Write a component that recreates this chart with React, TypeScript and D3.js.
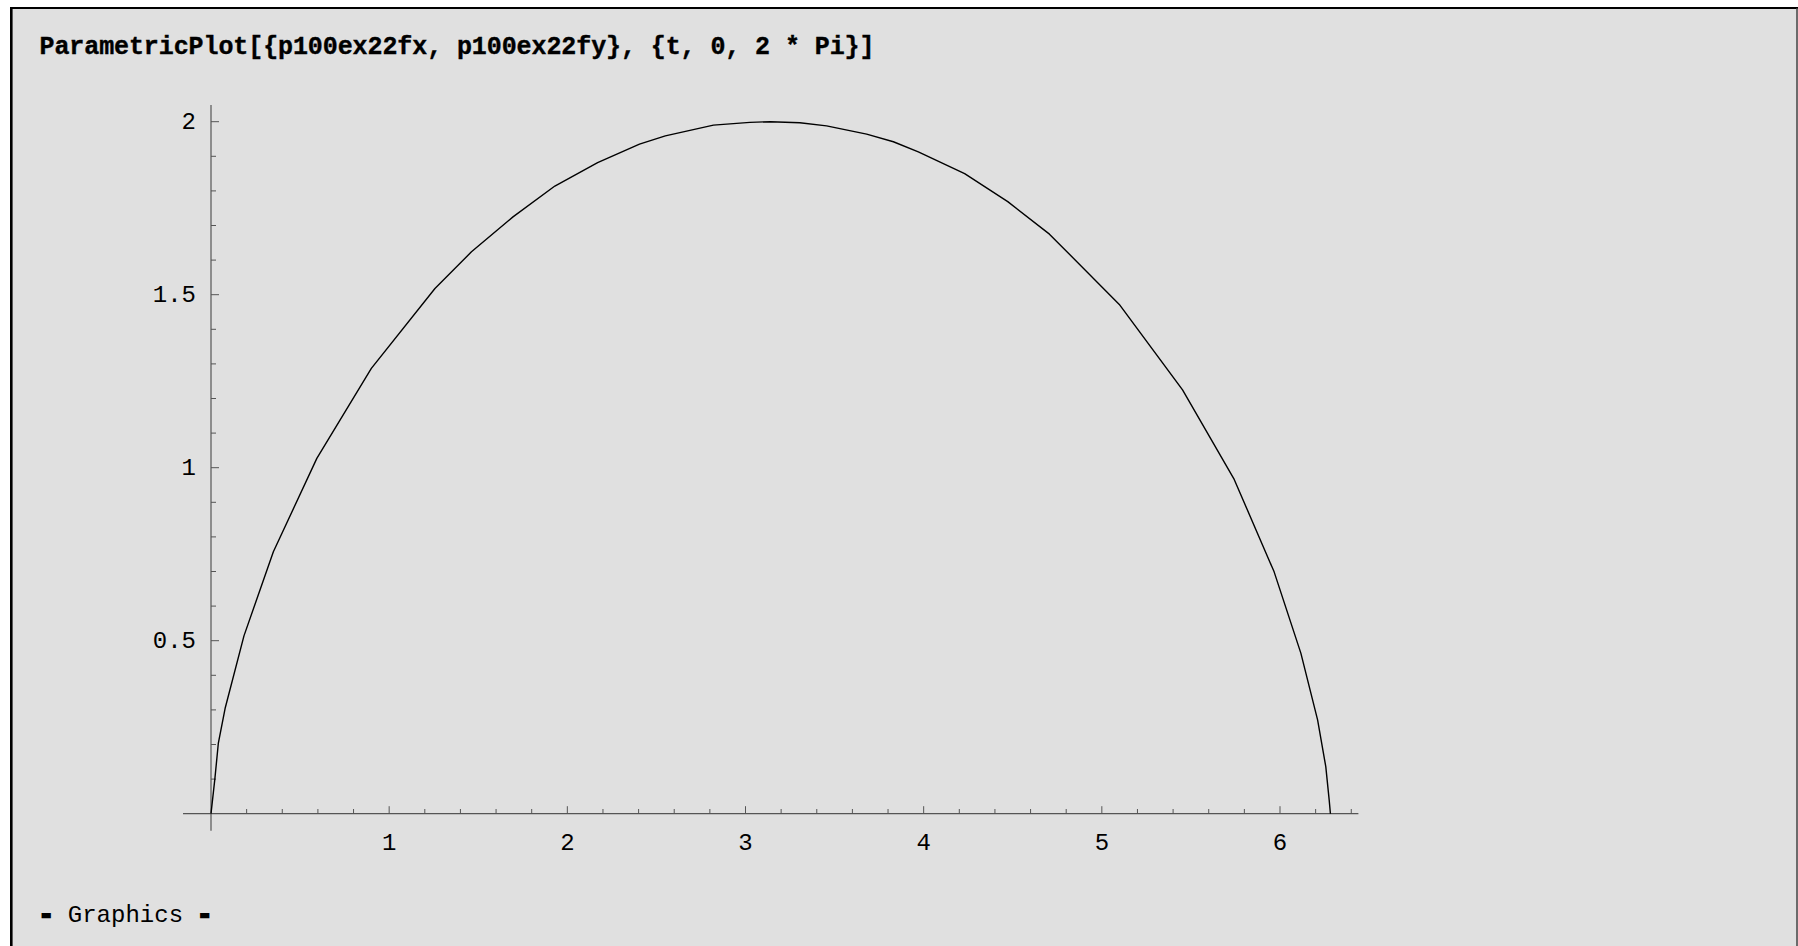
import React from "react";
import * as d3 from "d3";

// Vertices of the sampled parametric curve {fx(t), fy(t)}, t in [0, 2π]
const curveX = [
  0, 0.022, 0.041, 0.079, 0.185, 0.35, 0.594, 0.9, 1.257, 1.462, 1.695, 1.93,
  2.17, 2.405, 2.55, 2.82, 3.025, 3.14, 3.305, 3.455, 3.68, 3.83, 3.97, 4.23,
  4.472, 4.706, 5.098, 5.453, 5.743, 5.967, 6.117, 6.211, 6.257, 6.276, 6.283,
];
const curveY = [
  0, 0.102, 0.203, 0.304, 0.514, 0.757, 1.027, 1.287, 1.518, 1.624, 1.725,
  1.814, 1.882, 1.935, 1.959, 1.99, 1.998, 2.0, 1.997, 1.988, 1.964, 1.942,
  1.913, 1.85, 1.769, 1.675, 1.472, 1.225, 0.966, 0.699, 0.464, 0.271, 0.136,
  0.04, 0,
];

// Axis labels and plot range
const xTickLabels = [1, 2, 3, 4, 5, 6];
const yTickLabels = [0.5, 1, 1.5, 2];
const xMinorStep = 0.2;
const yMinorStep = 0.1;
const xRange = [-0.157, 6.44];
const yRange = [-0.049, 2.048];

const titleText = "ParametricPlot[{p100ex22fx, p100ex22fy}, {t, 0, 2 * Pi}]";

const W = 1798;
const H = 946;
const MONO = "'Liberation Mono', 'Courier New', 'DejaVu Sans Mono', monospace";

export default function App() {
  const x = d3.scaleLinear().domain([0, 6]).range([211, 1280]);
  const y = d3.scaleLinear().domain([0, 2]).range([813.7, 121.7]);

  const pts: [number, number][] = curveX.map((v, i) => [v, curveY[i]]);
  const line = d3
    .line<[number, number]>()
    .x((d) => x(d[0]))
    .y((d) => y(d[1]));

  const xMinor = d3
    .range(1, Math.floor(xRange[1] / xMinorStep + 1e-6) + 1)
    .map((k) => +(k * xMinorStep).toFixed(2))
    .filter((v) => Math.abs(v - Math.round(v)) > 1e-6);
  const yMinor = d3
    .range(1, Math.floor(yRange[1] / yMinorStep + 1e-6) + 1)
    .map((k) => +(k * yMinorStep).toFixed(2))
    .filter((v) => !yTickLabels.some((t) => Math.abs(t - v) < 1e-6));

  const axisColor = "#555";

  return (
    <svg
      width={W}
      height={H}
      style={{ position: "absolute", left: 0, top: 0, display: "block" }}
    >
      <rect x={0} y={0} width={W} height={H} fill="#ffffff" />
      <rect x={11} y={8} width={W - 11} height={H - 8} fill="#e0e0e0" />
      {/* cell frame */}
      <line x1={10} x2={W} y1={8} y2={8} stroke="#000" strokeWidth={2.2} />
      <line x1={11.3} x2={11.3} y1={7} y2={H} stroke="#000" strokeWidth={2.6} />
      <line x1={W - 1} x2={W - 1} y1={8} y2={H} stroke="#444" strokeWidth={1.5} />

      <text
        x={39.5}
        y={54.3}
        fontFamily={MONO}
        fontWeight="bold"
        fontSize={25}
        fill="#000"
        stroke="#000"
        strokeWidth={0.4}
        textLength={835}
        lengthAdjust="spacing"
      >
        {titleText}
      </text>

      {/* axes */}
      <line
        x1={x(xRange[0])}
        x2={x(xRange[1])}
        y1={y(0)}
        y2={y(0)}
        stroke={axisColor}
        strokeWidth={1.2}
      />
      <line
        x1={x(0)}
        x2={x(0)}
        y1={y(yRange[0])}
        y2={y(yRange[1])}
        stroke={axisColor}
        strokeWidth={1.2}
      />

      {xMinor.map((v) => (
        <line
          key={"xm" + v}
          x1={x(v)}
          x2={x(v)}
          y1={y(0)}
          y2={y(0) - 4.7}
          stroke={axisColor}
          strokeWidth={1}
        />
      ))}
      {xTickLabels.map((v) => (
        <g key={"xt" + v}>
          <line
            x1={x(v)}
            x2={x(v)}
            y1={y(0)}
            y2={y(0) - 7.5}
            stroke={axisColor}
            strokeWidth={1}
          />
          <text
            x={x(v)}
            y={849.5}
            textAnchor="middle"
            fontFamily={MONO}
            fontSize={24}
            fill="#000"
          >
            {v}
          </text>
        </g>
      ))}

      {yMinor.map((v) => (
        <line
          key={"ym" + v}
          x1={x(0)}
          x2={x(0) + 5}
          y1={y(v)}
          y2={y(v)}
          stroke={axisColor}
          strokeWidth={1}
        />
      ))}
      {yTickLabels.map((v) => (
        <g key={"yt" + v}>
          <line
            x1={x(0)}
            x2={x(0) + 8}
            y1={y(v)}
            y2={y(v)}
            stroke={axisColor}
            strokeWidth={1}
          />
          <text
            x={196}
            y={y(v) + 7.5}
            textAnchor="end"
            fontFamily={MONO}
            fontSize={24}
            fill="#000"
          >
            {String(v)}
          </text>
        </g>
      ))}

      <path
        d={line(pts) || ""}
        fill="none"
        stroke="#000"
        strokeWidth={1.4}
        strokeLinejoin="round"
      />

      <text x={39} y={921.7} fontFamily={MONO} fontSize={24} fill="#000">
        <tspan fontWeight="bold" stroke="#000" strokeWidth={2.5}>
          -
        </tspan>
        <tspan> Graphics </tspan>
        <tspan fontWeight="bold" stroke="#000" strokeWidth={2.5}>
          -
        </tspan>
      </text>
    </svg>
  );
}
